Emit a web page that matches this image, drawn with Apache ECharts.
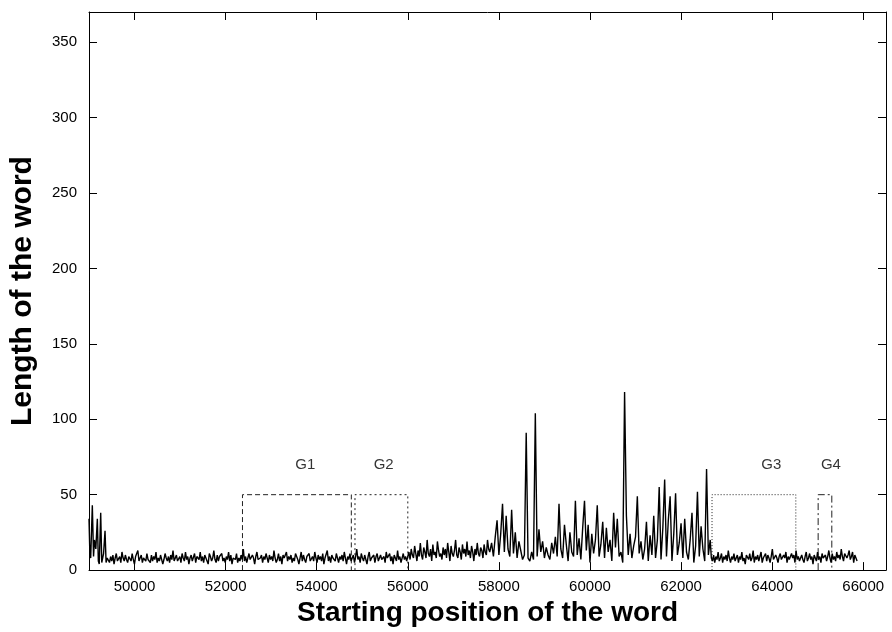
<!DOCTYPE html>
<html>
<head>
<meta charset="utf-8">
<script src="https://cdn.jsdelivr.net/npm/echarts@6/dist/echarts.min.js"></script>
<style>html,body{margin:0;padding:0;background:#fff;}#c{width:892px;height:632px;}</style>
</head>
<body>
<div id="c"></div>
<script>
// ---- tick labels ----
const xTicks = [50000, 52000, 54000, 56000, 58000, 60000, 62000, 64000, 66000];
const yTicks = [0, 50, 100, 150, 200, 250, 300, 350];

// ---- word series (start position, length) ----
// opening spikes, explicit positions
const initX = [49000, 49018, 49037, 49073, 49100, 49120, 49150, 49183, 49205, 49225, 49257, 49280, 49293, 49320, 49352, 49375, 49400];
const initY = [34, 12, 8, 43, 9, 20, 14, 34, 6, 4, 38, 5, 5, 11, 26, 5, 8];

// quiet stretch 49425 .. 55975
const quietAStart = 49425, quietAEnd = 55975;
const quietA = [
7,5,9,6,10,4,8,11,6,7,9,5,12,8,6,10,7,5,9,8,
6,11,7,4,9,8,13,6,7,10,5,8,9,6,11,7,8,5,10,6,
9,7,12,5,8,6,10,9,4,7,11,8,6,9,5,10,7,13,6,8,
10,6,7,9,5,11,8,6,12,7,9,4,8,10,6,7,11,5,9,8,
7,12,6,9,5,10,8,7,4,11,9,6,8,13,7,5,10,6,9,8,
11,6,8,5,9,7,12,6,10,4,8,9,7,11,5,8,6,10,7,14,
6,9,5,8,11,7,6,10,8,4,9,12,7,6,8,10,5,9,7,11,
8,5,10,7,9,6,13,8,5,7,11,6,9,4,10,8,7,12,6,9,
7,10,5,8,6,11,9,7,4,8,12,6,10,7,5,9,8,11,6,7,
9,6,12,8,5,10,7,9,6,11,4,8,7,13,6,9,5,10,8,7,
6,11,8,5,9,7,10,6,12,8,4,9,7,11,6,8,10,5,9,14,
7,9,5,11,8,6,10,7,4,9,12,6,8,7,10,5,9,11,6,8,
10,7,6,9,5,12,8,7,11,6,9,4,10,8,6,13,7,9,5,8,
11,7,9,6
];

// slowly rising stretch 56000 .. 57775
const riseStart = 56000, riseEnd = 57775;
const rise = [9,12,7,14,10,8,16,11,6,13,9,18,10,7,15,12,8,20,11,9,14,6,17,10,12,8,19,13,9,11,7,15,10,14,8,18,12,6,16,11,9,13,20,10,8,15,12,7,17,11,14,9,19,10,13,8,16,12,6,14,10,18,11,9,15,13,8,17,12,10,20,14];

// active stretch 57800 .. 62640
const activeStart = 57800, activeEnd = 62640;
const active = [
12,18,9,22,33,10,24,44,12,36,14,9,40,11,25,8,19,13,7,10,
91,8,6,12,7,104,9,27,12,19,8,15,10,7,18,11,22,9,44,14,
8,30,17,6,25,12,9,46,10,21,7,28,46,13,30,5,24,11,20,43,
9,17,32,8,28,12,20,6,38,15,34,9,12,5,118,36,10,24,8,16,
22,49,11,19,7,14,32,6,23,10,36,8,20,55,7,28,60,9,33,49,
6,24,51,10,18,31,8,34,12,7,20,38,5,16,52,9,29,14,6,67,
10,20
];

// quiet stretch 62665 .. 65865
const quietBStart = 62665, quietBEnd = 65865;
const quietB = [
8,6,10,5,9,7,12,6,8,11,5,9,7,10,6,13,8,5,9,7,
11,6,8,10,5,9,7,12,6,8,4,10,9,7,11,6,8,13,5,9,
7,10,6,9,12,5,8,7,11,6,10,8,5,9,14,7,6,10,8,5,
9,11,7,6,10,8,12,5,9,7,6,11,8,10,5,13,7,9,6,8,
10,7,5,9,12,6,8,11,7,9,4,10,8,6,12,7,9,5,11,8,
7,10,6,9,13,8,5,11,7,9,6,12,8,10,7,14,9,6,11,12,
8,10,13,7,9,12,5,10,11,6
];

// ---- groups ----
const groupNames = ['G1', 'G2', 'G3', 'G4'];
const groupStart = [52370, 54840, 62680, 65010];
const groupEnd = [54760, 56000, 64520, 65310];
const groupHeight = [50, 50, 50, 50];
const groupLabelX = [53750, 55470, 63980, 65290];
const groupLabelY = [70, 70, 70, 70];

// ---- build ----
function span(start, end, vals) {
  const step = (end - start) / (vals.length - 1);
  return vals.map((v, i) => [start + i * step, v]);
}
const wordData = []
  .concat(initX.map((x, i) => [x, initY[i]]))
  .concat(span(quietAStart, quietAEnd, quietA))
  .concat(span(riseStart, riseEnd, rise))
  .concat(span(activeStart, activeEnd, active))
  .concat(span(quietBStart, quietBEnd, quietB));

const dashStyles = [[5, 3], [2, 3], [1, 2], [7, 3, 2, 3]];
const boxSeries = groupNames.map((n, i) => ({
  type: 'line',
  name: n + ' box',
  xAxisIndex: 0, yAxisIndex: 0,
  data: [[groupStart[i], 0], [groupStart[i], groupHeight[i]], [groupEnd[i], groupHeight[i]], [groupEnd[i], 0]],
  symbol: 'none',
  silent: true,
  lineStyle: { color: '#222', width: 1, type: dashStyles[i] },
  z: 3
}));

const FONT = "'Liberation Sans', Arial, Helvetica, sans-serif";
const axisCommon = {
  axisLine: { show: true, onZero: false, lineStyle: { color: '#000', width: 1 } },
  splitLine: { show: false }
};
const plain = v => String(v);

const chart = echarts.init(document.getElementById('c'), null, { renderer: 'canvas' });
chart.setOption({
  animation: false,
  backgroundColor: '#fff',
  grid: { left: 88, right: 6, top: 12, bottom: 59, containLabel: false },
  xAxis: [
    Object.assign({}, axisCommon, {
      type: 'value', min: 49000, max: 66500, position: 'bottom',
      axisTick: { show: true, inside: true, length: 8, lineStyle: { color: '#000' }, customValues: xTicks },
      axisLabel: { show: true, margin: 9, fontSize: 15, color: '#000', fontFamily: FONT, customValues: xTicks, formatter: plain },
      name: 'Starting position of the word', nameLocation: 'middle', nameGap: 22,
      nameTextStyle: { fontSize: 28, fontWeight: 'bold', color: '#000', fontFamily: FONT }
    }),
    Object.assign({}, axisCommon, {
      type: 'value', min: 49000, max: 66500, position: 'top',
      axisTick: { show: true, inside: true, length: 8, lineStyle: { color: '#000' }, customValues: xTicks },
      axisLabel: { show: false }
    })
  ],
  yAxis: [
    Object.assign({}, axisCommon, {
      type: 'value', min: 0, max: 370, position: 'left',
      axisTick: { show: true, inside: true, length: 8, lineStyle: { color: '#000' }, customValues: yTicks },
      axisLabel: { show: true, margin: 12, fontSize: 15, color: '#000', fontFamily: FONT, customValues: yTicks, formatter: plain },
      name: 'Length of the word', nameLocation: 'middle', nameGap: 51, nameRotate: 90,
      nameTextStyle: { fontSize: 30, fontWeight: 'bold', color: '#000', fontFamily: FONT }
    }),
    Object.assign({}, axisCommon, {
      type: 'value', min: 0, max: 370, position: 'right',
      axisTick: { show: true, inside: true, length: 8, lineStyle: { color: '#000' }, customValues: yTicks },
      axisLabel: { show: false }
    })
  ],
  series: [
    {
      type: 'line', name: 'words', data: wordData, symbol: 'none', silent: true,
      lineStyle: { color: '#000', width: 1.4 }, z: 4
    }
  ].concat(boxSeries).concat([
    {
      type: 'scatter', name: 'labels', symbolSize: 0, silent: true,
      data: groupNames.map((n, i) => ({ value: [groupLabelX[i], groupLabelY[i]], name: n })),
      label: { show: true, position: 'inside', formatter: p => p.name, fontSize: 15, color: '#000', fontFamily: FONT }
    }
  ])
});
</script>
</body>
</html>
